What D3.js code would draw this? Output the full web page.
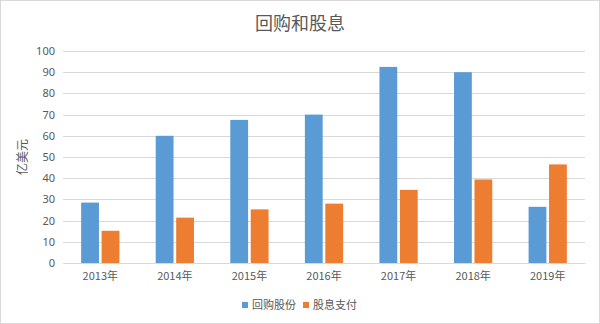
<!DOCTYPE html>
<html>
<head>
<meta charset="utf-8">
<script src="https://cdn.jsdelivr.net/npm/d3@7"></script>
<style>
  body { margin: 0; background: #fff; }
  svg { display: block; }
  text { font-family: "Noto Sans CJK SC", "Noto Sans", sans-serif; fill: #595959; }
</style>
</head>
<body>
<div id="chart"></div>
<script>
// Data
const years = ['2013年', '2014年', '2015年', '2016年', '2017年', '2018年', '2019年'];
const seriesNames = ['回购股份', '股息支付'];
const buybacks = [28.5, 60, 67.5, 70, 92.5, 90, 26.5];
const dividends = [15.2, 21.4, 25.3, 28, 34.5, 39.4, 46.5];
const yTicks = [0, 10, 20, 30, 40, 50, 60, 70, 80, 90, 100];
const colors = ['#5B9BD5', '#ED7D31'];

const W = 600, H = 324;
const margin = { top: 51, right: 15, bottom: 61, left: 63 };
const width = W - margin.left - margin.right;
const height = H - margin.top - margin.bottom;

const rows = years.map((y, i) => ({ year: y, values: [buybacks[i], dividends[i]] }));

const svg = d3.select('#chart').append('svg')
  .attr('width', W)
  .attr('height', H);

// outer border
svg.append('rect')
  .attr('x', 0.5).attr('y', 0.5)
  .attr('width', W - 1).attr('height', H - 1)
  .attr('fill', '#fff')
  .attr('stroke', '#d9d9d9');

// title
svg.append('text')
  .attr('x', W / 2).attr('y', 30)
  .attr('text-anchor', 'middle')
  .style('font-size', '18px')
  .text('回购和股息');

const g = svg.append('g')
  .attr('transform', `translate(${margin.left},${margin.top})`);

const x0 = d3.scaleBand()
  .domain(years)
  .range([0, width])
  .paddingInner(0.487)
  .paddingOuter(0.2435);

const x1 = d3.scaleBand()
  .domain(d3.range(seriesNames.length))
  .range([0, x0.bandwidth()])
  .paddingInner(0.13);

const y = d3.scaleLinear()
  .domain([0, 100])
  .range([height, 0]);

// grid lines
g.append('g')
  .selectAll('line')
  .data(yTicks)
  .enter().append('line')
  .attr('x1', 0).attr('x2', width)
  .attr('y1', d => Math.round(y(d)) + 0.5)
  .attr('y2', d => Math.round(y(d)) + 0.5)
  .attr('stroke', '#d9d9d9')
  .attr('stroke-width', 1);

// y axis labels
const yAxis = g.append('g')
  .call(d3.axisLeft(y).tickValues(yTicks).tickSize(0).tickPadding(8));
yAxis.select('.domain').remove();
yAxis.selectAll('text')
  .style('font-size', '11px')
  .style('fill', '#595959')
  .style('font-family', '"Noto Sans", sans-serif');

// bars
const groups = g.append('g')
  .selectAll('g')
  .data(rows)
  .enter().append('g')
  .attr('transform', d => `translate(${x0(d.year)},0)`);

groups.selectAll('rect')
  .data(d => d.values)
  .enter().append('rect')
  .attr('x', (d, i) => x1(i))
  .attr('y', d => y(d))
  .attr('width', x1.bandwidth())
  .attr('height', d => y(0) - y(d))
  .attr('fill', (d, i) => colors[i]);

// x axis
const xAxis = g.append('g')
  .attr('transform', `translate(0,${height})`)
  .call(d3.axisBottom(x0).tickSize(0).tickPadding(9));
xAxis.select('.domain')
  .attr('stroke', '#d9d9d9');
xAxis.selectAll('text')
  .style('font-size', '11px')
  .style('fill', '#595959')
  .style('font-family', '"Noto Sans CJK SC", sans-serif');

// y axis title
svg.append('text')
  .attr('transform', `translate(27,${margin.top + height / 2}) rotate(-90)`)
  .attr('text-anchor', 'middle')
  .style('font-size', '12px')
  .text('亿美元');

// legend
const legend = svg.append('g')
  .attr('transform', 'translate(242,305)');

const items = legend.selectAll('g')
  .data(seriesNames)
  .enter().append('g')
  .attr('transform', (d, i) => `translate(${i * 61},0)`);

items.append('rect')
  .attr('x', 0).attr('y', -3)
  .attr('width', 6).attr('height', 6)
  .attr('fill', (d, i) => colors[i]);

items.append('text')
  .attr('x', 10).attr('y', 0)
  .attr('dy', '0.35em')
  .style('font-size', '11px')
  .text(d => d);
</script>
</body>
</html>
